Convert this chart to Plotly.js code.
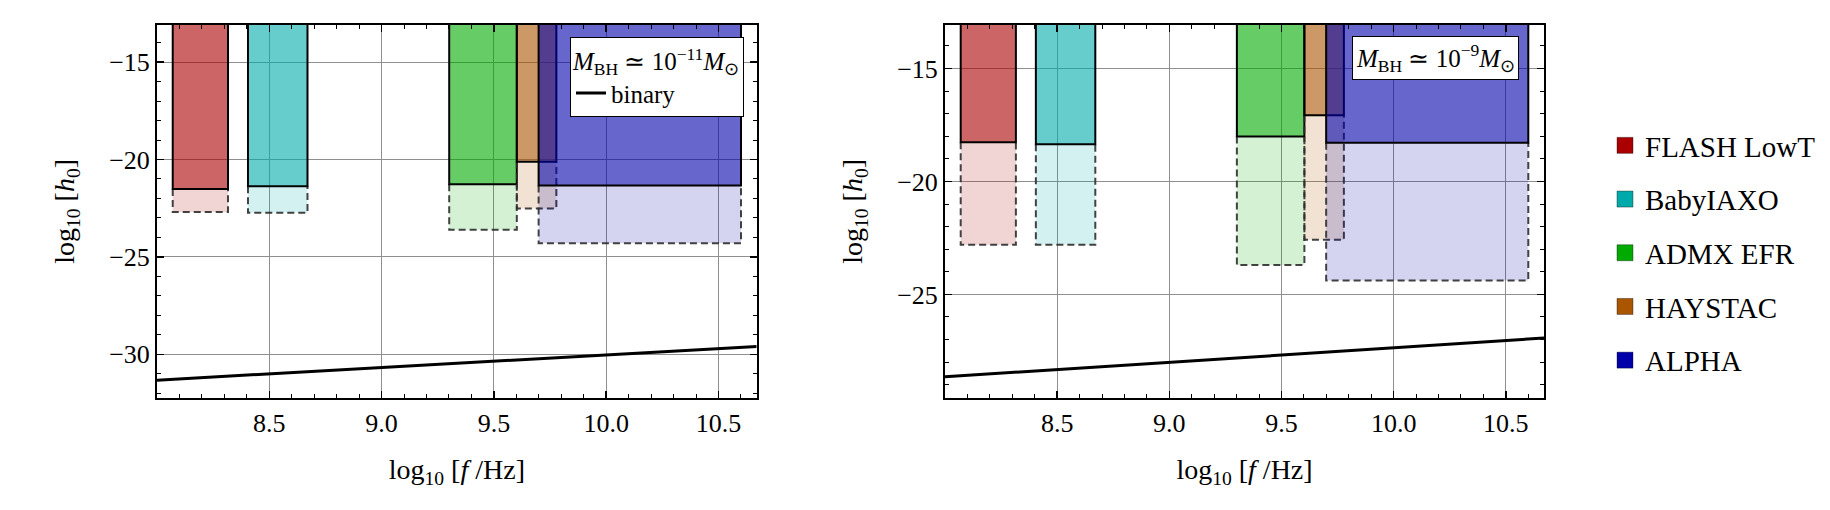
<!DOCTYPE html>
<html>
<head>
<meta charset="utf-8">
<script src="https://cdn.plot.ly/plotly-3.0.1.min.js"></script>
<style>html,body{margin:0;padding:0;background:#fff;}</style>
</head>
<body>
<div id="chart" style="width:1830px;height:510px;"></div>
<script>
// ---- data ----
const experiments = ['FLASH LowT', 'BabyIAXO', 'ADMX EFR', 'HAYSTAC', 'ALPHA'];
const fLow  = [8.07, 8.405, 9.301, 9.602, 9.699];   // log10(f/Hz), lower edge
const fHigh = [8.316, 8.67, 9.602, 9.778, 10.6];    // log10(f/Hz), upper edge
// M_BH ~ 1e-11 Msun
const h0Solid1  = [-21.52, -21.37, -21.27, -20.11, -21.34];
const h0Dashed1 = [-22.70, -22.74, -23.61, -22.52, -24.30];
// M_BH ~ 1e-9 Msun
const h0Solid2  = [-18.26, -18.35, -18.01, -17.07, -18.29];
const h0Dashed2 = [-22.80, -22.80, -23.70, -22.58, -24.38];
// binary signal line (end points)
const binaryF   = [8.0, 10.67];
const binaryH1  = [-31.33, -29.60];
const binaryH2  = [-28.65, -26.93];
const regionTop = -10;   // excluded regions extend above the plotted range
// ticks
const xTickVals = [8.5, 9.0, 9.5, 10.0, 10.5];
const xTickText = ['8.5', '9.0', '9.5', '10.0', '10.5'];
const yTickVals1 = [-30, -25, -20, -15];
const yTickText1 = ['\u221230', '\u221225', '\u221220', '\u221215'];
const yTickVals2 = [-25, -20, -15];
const yTickText2 = ['\u221225', '\u221220', '\u221215'];

// ---- styles ----
const baseRGB = [[170,0,0],[0,170,170],[0,170,0],[170,85,0],[0,0,170]];
const rgba = (c, a) => `rgba(${c[0]},${c[1]},${c[2]},${a})`;
const SERIF = 'Liberation Serif';

const traces = [];
function addPanel(xa, ya, solid, dashed, binH, binLegend) {
  for (let i = 0; i < experiments.length; i++) {
    const x0 = fLow[i], x1 = fHigh[i];
    traces.push({
      type: 'scatter', mode: 'lines', xaxis: xa, yaxis: ya,
      x: [x0, x0, x1, x1], y: [solid[i], dashed[i], dashed[i], solid[i]],
      fill: 'toself', fillcolor: rgba(baseRGB[i], 0.17),
      line: {color: 'rgba(45,45,45,0.9)', width: 2, dash: '7px,4px'},
      showlegend: false, hoverinfo: 'skip'
    });
    traces.push({
      type: 'scatter', mode: 'lines', xaxis: xa, yaxis: ya,
      x: [x0, x0, x1, x1], y: [regionTop, solid[i], solid[i], regionTop],
      fill: 'toself', fillcolor: rgba(baseRGB[i], 0.6),
      line: {color: 'black', width: 2},
      showlegend: false, hoverinfo: 'skip'
    });
  }
  traces.push({
    type: 'scatter', mode: 'lines', xaxis: xa, yaxis: ya,
    x: binaryF, y: binH, name: 'binary',
    line: {color: 'black', width: 3},
    showlegend: binLegend, legend: 'legend2'
  });
}
addPanel('x', 'y', h0Solid1, h0Dashed1, binaryH1, true);
addPanel('x2', 'y2', h0Solid2, h0Dashed2, binaryH2, false);

// legend swatches
for (let i = 0; i < experiments.length; i++) {
  traces.push({
    type: 'scatter', mode: 'markers', x: [null], y: [null],
    name: experiments[i], legendgroup: experiments[i], legend: 'legend',
    marker: {symbol: 'square', size: 16, color: rgba(baseRGB[i], 1),
             line: {color: 'rgba(0,0,0,0.35)', width: 1}},
    showlegend: true
  });
}

const W = 1830, H = 510;
const axisCommon = {
  showline: true, linecolor: 'black', linewidth: 2, mirror: 'allticks',
  ticks: 'inside', ticklen: 7, tickwidth: 1.5, tickcolor: 'black',
  showgrid: true, gridcolor: '#8f8f8f', gridwidth: 1, zeroline: false,
  tickfont: {family: SERIF, size: 26, color: 'black'}
};
const xMinor = {tickmode: 'linear', tick0: 8, dtick: 0.1, ticks: 'inside', ticklen: 4, tickwidth: 1, tickcolor: 'black', showgrid: false};
const yMinor = {tickmode: 'linear', tick0: 0, dtick: 1, ticks: 'inside', ticklen: 4, tickwidth: 1, tickcolor: 'black', showgrid: false};
const titleFont = {family: SERIF, size: 28, color: 'black'};
const xTitle = 'log<sub>10</sub> [<i>f</i> /Hz]';
const yTitle = 'log<sub>10</sub> [<i>h</i><sub>0</sub>]';
const yDom = [(H - 398.3) / H, (H - 24.5) / H];

const layout = {
  width: W, height: H,
  margin: {l: 0, r: 0, t: 0, b: 0},
  paper_bgcolor: 'white', plot_bgcolor: 'rgba(0,0,0,0)',
  font: {family: SERIF, color: 'black'},
  xaxis: Object.assign({}, axisCommon, {
    domain: [157 / W, 756.7 / W], range: [8.0, 10.67], anchor: 'y',
    tickmode: 'array', tickvals: xTickVals, ticktext: xTickText, minor: xMinor,
    title: {text: xTitle, font: titleFont, standoff: 23}
  }),
  yaxis: Object.assign({}, axisCommon, {
    domain: yDom, range: [-32.26, -13.07], anchor: 'x',
    tickmode: 'array', tickvals: yTickVals1, ticktext: yTickText1, minor: yMinor,
    title: {text: yTitle, font: titleFont, standoff: 26}
  }),
  xaxis2: Object.assign({}, axisCommon, {
    domain: [945 / W, 1544 / W], range: [8.0, 10.67], anchor: 'y2',
    tickmode: 'array', tickvals: xTickVals, ticktext: xTickText, minor: xMinor,
    title: {text: xTitle, font: titleFont, standoff: 23}
  }),
  yaxis2: Object.assign({}, axisCommon, {
    domain: yDom, range: [-29.6, -13.05], anchor: 'x2',
    tickmode: 'array', tickvals: yTickVals2, ticktext: yTickText2, minor: yMinor,
    title: {text: yTitle, font: titleFont, standoff: 26}
  }),
  legend: {
    x: 1605 / W, y: (H - 120) / H, xanchor: 'left', yanchor: 'top',
    font: {family: SERIF, size: 29, color: 'black'},
    tracegroupgap: 13, bgcolor: 'rgba(0,0,0,0)', borderwidth: 0
  },
  legend2: {
    x: 570 / W, y: (H - 36.7) / H, xanchor: 'left', yanchor: 'top',
    font: {family: SERIF, size: 25, color: 'black'},
    bgcolor: 'white', bordercolor: 'black', borderwidth: 1,
    title: {text: '<i>M</i><sub>BH</sub> \u2243 10<sup>\u221211</sup><i>M</i><sub>\u2299</sub>',
            font: {family: SERIF, size: 25, color: 'black'}}
  },
  annotations: [{
    xref: 'paper', yref: 'paper', x: 1352.3 / W, y: (H - 36) / H,
    xanchor: 'left', yanchor: 'top', showarrow: false,
    text: '<i>M</i><sub>BH</sub> \u2243 10<sup>\u22129</sup><i>M</i><sub>\u2299</sub>',
    font: {family: SERIF, size: 25, color: 'black'},
    bgcolor: 'white', bordercolor: 'black', borderwidth: 1, borderpad: 3
  }]
};

Plotly.newPlot('chart', traces, layout, {displayModeBar: false, staticPlot: true});
</script>
</body>
</html>
